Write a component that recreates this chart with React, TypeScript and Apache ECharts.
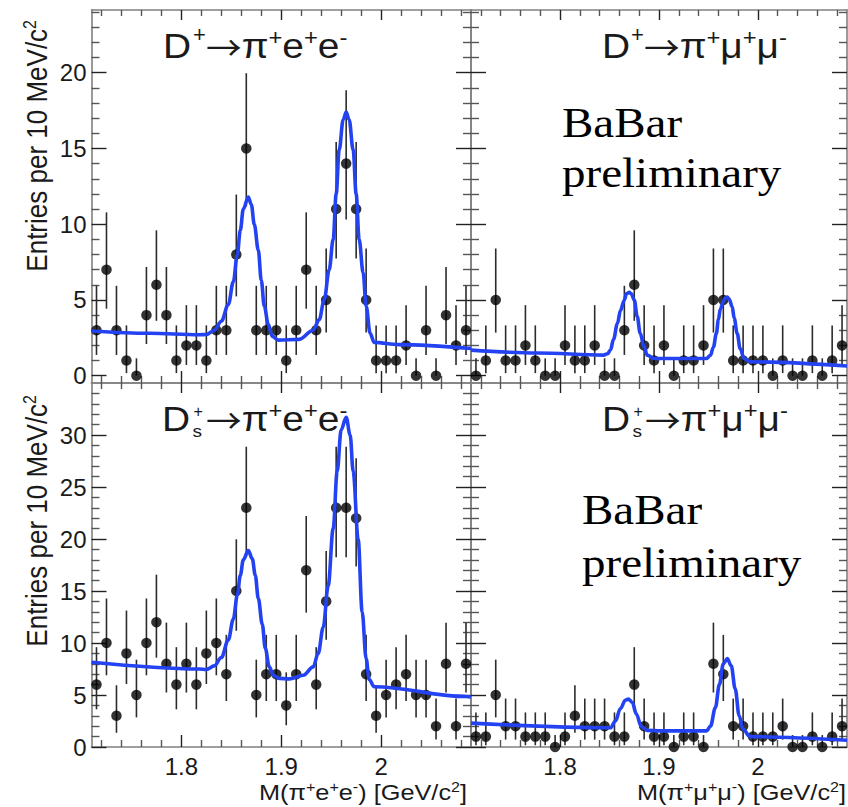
import { useEffect, useRef } from 'react';
import * as echarts from 'echarts';

// ---------- data ----------
// centres of the 38 bins of 10 MeV/c^2
const BIN_CENTRES = [
  1.715, 1.725, 1.735, 1.745, 1.755, 1.765, 1.775, 1.785, 1.795, 1.805,
  1.815, 1.825, 1.835, 1.845, 1.855, 1.865, 1.875, 1.885, 1.895, 1.905,
  1.915, 1.925, 1.935, 1.945, 1.955, 1.965, 1.975, 1.985, 1.995, 2.005,
  2.015, 2.025, 2.035, 2.045, 2.055, 2.065, 2.075, 2.085,
];

const DPLUS_EE = [3, 7, 3, 1, 0, 4, 6, 4, 1, 2, 2, 1, 3, 3, 8, 15, 3, 3, 3, 1, 3, 7, 3, 5, 11, 14, 11, 5, 1, 1, 1, 2, 0, 3, 0, 4, 2, 3];
const DPLUS_MUMU = [0, 1, 5, 1, 1, 2, 1, 0, 0, 2, 1, 1, 2, 0, 0, 3, 6, 2, 1, 2, 0, 1, 1, 2, 5, 5, 1, 1, 1, 1, 0, 1, 0, 0, 1, 0, 1, 2];
const DS_EE = [6, 10, 3, 9, 5, 10, 12, 8, 6, 8, 6, 9, 10, 7, 15, 23, 5, 7, 7, 4, 7, 17, 6, 14, 23, 23, 22, 7, 3, 5, 6, 7, 5, 5, 2, 8, 2, 8];
const DS_MUMU = [1, 1, 5, 2, 2, 1, 1, 1, 0, 1, 3, 2, 2, 2, 1, 1, 6, 2, 1, 1, 0, 1, 1, 0, 8, 7, 2, 2, 1, 1, 1, 2, 0, 0, 1, 0, 1, 2];

// fitted curves
const FIT_DPLUS_EE_X = [1.71, 1.768, 1.818, 1.825, 1.833, 1.84, 1.847, 1.852, 1.856, 1.859, 1.862, 1.867, 1.87, 1.873, 1.877, 1.88, 1.883, 1.887, 1.891, 1.897, 1.918, 1.932, 1.938, 1.943, 1.948, 1.952, 1.955, 1.958, 1.962, 1.965, 1.968, 1.972, 1.975, 1.978, 1.982, 1.985, 1.989, 1.993, 2.018, 2.09];
const FIT_DPLUS_EE_Y = [2.95, 2.8, 2.7, 2.72, 3.0, 3.6, 4.7, 6.2, 8.0, 9.6, 11.0, 11.8, 11.3, 10.0, 8.3, 6.3, 4.6, 3.4, 2.6, 2.35, 2.4, 3.0, 3.7, 5.0, 7.0, 9.0, 12.0, 14.9, 16.9, 17.4, 16.9, 14.9, 12.0, 9.0, 6.8, 4.6, 2.8, 2.2, 2.05, 1.8];

const FIT_DPLUS_MUMU_X = [1.71, 1.777, 1.844, 1.848, 1.851, 1.854, 1.858, 1.861, 1.865, 1.867, 1.87, 1.872, 1.875, 1.878, 1.881, 1.885, 1.888, 1.895, 1.948, 1.952, 1.955, 1.958, 1.96, 1.962, 1.965, 1.967, 1.969, 1.971, 1.974, 1.976, 1.979, 1.982, 1.986, 1.992, 2.09];
const FIT_DPLUS_MUMU_Y = [1.69, 1.5, 1.36, 1.45, 1.7, 2.4, 3.45, 4.3, 5.0, 5.4, 5.5, 5.4, 5.0, 3.9, 2.8, 1.9, 1.36, 1.14, 1.14, 1.35, 1.9, 2.8, 3.7, 4.4, 4.9, 5.15, 5.2, 5.05, 4.55, 3.8, 2.8, 1.8, 1.14, 0.92, 0.64];

const FIT_DS_EE_X = [1.71, 1.818, 1.825, 1.833, 1.84, 1.847, 1.852, 1.856, 1.859, 1.862, 1.867, 1.871, 1.874, 1.877, 1.881, 1.884, 1.888, 1.892, 1.898, 1.908, 1.922, 1.932, 1.937, 1.942, 1.947, 1.952, 1.956, 1.96, 1.965, 1.969, 1.972, 1.977, 1.981, 1.985, 1.988, 1.993, 2.085, 2.09];
const FIT_DS_EE_Y = [8.15, 7.5, 7.45, 7.8, 8.6, 10.3, 12.3, 14.6, 16.5, 18.0, 18.9, 18.1, 16.5, 14.3, 11.8, 9.5, 7.7, 6.9, 6.6, 6.55, 6.9, 7.7, 9.0, 11.5, 15.5, 21.0, 26.5, 30.5, 31.7, 30.0, 26.5, 20.0, 13.0, 8.5, 6.5, 5.8, 4.85, 4.8];

const FIT_DS_MUMU_X = [1.71, 1.851, 1.856, 1.861, 1.866, 1.869, 1.873, 1.877, 1.882, 1.888, 1.902, 1.948, 1.952, 1.957, 1.961, 1.965, 1.969, 1.973, 1.977, 1.981, 1.985, 1.992, 2.09];
const FIT_DS_MUMU_Y = [2.3, 1.85, 2.5, 3.7, 4.5, 4.6, 4.3, 3.2, 2.0, 1.6, 1.55, 1.55, 2.0, 3.8, 6.0, 8.0, 8.5, 7.8, 5.6, 3.0, 1.7, 1.0, 0.65];

// axis ticks
const X_MAJOR = [1.8, 1.9, 2.0];
const X_MINOR = [1.72, 1.74, 1.76, 1.78, 1.82, 1.84, 1.86, 1.88, 1.92, 1.94, 1.96, 1.98, 2.02, 2.04, 2.06, 2.08];
const Y_MAJOR_TOP = [0, 5, 10, 15, 20];
const Y_MINOR_TOP = [1, 2, 3, 4, 6, 7, 8, 9, 11, 12, 13, 14, 16, 17, 18, 19, 21, 22, 23, 24];
const Y_MAJOR_BOTTOM = [0, 5, 10, 15, 20, 25, 30];
const Y_MINOR_BOTTOM = [1, 2, 3, 4, 6, 7, 8, 9, 11, 12, 13, 14, 16, 17, 18, 19, 21, 22, 23, 24, 26, 27, 28, 29, 31, 32, 33, 34];

const X_RANGE = [1.71, 2.09];
const Y_RANGE_TOP = [-0.48, 24.14];
const Y_RANGE_BOTTOM = [0, 35];

// Poisson (RooFit style) interval of an observed count
function poissonInterval(n: number): [number, number] {
  if (n === 0) return [0, 1.148];
  const lo = n * Math.pow(1 - 1 / (9 * n) - 1 / (3 * Math.sqrt(n)), 3);
  const hi = n + Math.sqrt(n + 0.75) + 1;
  return [lo, hi];
}

const SANS = "'Liberation Sans', Arial, sans-serif";
const ARROW_FONT = "'Noto Sans CJK SC', 'Liberation Sans', sans-serif";
const SERIF = "'Liberation Serif', 'Times New Roman', serif";
const TXT = '#1a1a1a';
const FRAME = '#808080';
const BLUE = '#2343f2';

const PANELS = [
  { counts: DPLUS_EE, fx: FIT_DPLUS_EE_X, fy: FIT_DPLUS_EE_Y, yr: Y_RANGE_TOP, yMaj: Y_MAJOR_TOP, yMin: Y_MINOR_TOP, xLab: false, yLab: true },
  { counts: DPLUS_MUMU, fx: FIT_DPLUS_MUMU_X, fy: FIT_DPLUS_MUMU_Y, yr: Y_RANGE_TOP, yMaj: Y_MAJOR_TOP, yMin: Y_MINOR_TOP, xLab: false, yLab: false },
  { counts: DS_EE, fx: FIT_DS_EE_X, fy: FIT_DS_EE_Y, yr: Y_RANGE_BOTTOM, yMaj: Y_MAJOR_BOTTOM, yMin: Y_MINOR_BOTTOM, xLab: true, yLab: true },
  { counts: DS_MUMU, fx: FIT_DS_MUMU_X, fy: FIT_DS_MUMU_Y, yr: Y_RANGE_BOTTOM, yMaj: Y_MAJOR_BOTTOM, yMin: Y_MINOR_BOTTOM, xLab: true, yLab: false },
];

const GRIDS = [
  { left: 91.5, top: 10, width: 379.5, height: 373 },
  { left: 471, top: 10, width: 376, height: 373 },
  { left: 91.5, top: 383, width: 379.5, height: 364 },
  { left: 471, top: 383, width: 376, height: 364 },
];

function buildOption() {
  const xAxis: any[] = [];
  const yAxis: any[] = [];
  const series: any[] = [];

  PANELS.forEach((p, g) => {
    const tick = (vals: number[], len: number, color: string) => ({
      show: true, inside: true, length: len, customValues: vals,
      lineStyle: { color, width: 1.4 },
    });
    const line = (show: boolean) => ({ show, onZero: false, lineStyle: { color: FRAME, width: 1.6 } });
    const baseX = { gridIndex: g, type: 'value', min: X_RANGE[0], max: X_RANGE[1], splitLine: { show: false } };
    xAxis.push({
      ...baseX, position: 'bottom', axisLine: line(true), axisTick: tick(X_MAJOR, 12, '#222'),
      axisLabel: { show: p.xLab, customValues: X_MAJOR, fontSize: 24, color: TXT, fontFamily: SANS, margin: 7 },
    });
    xAxis.push({ ...baseX, position: 'bottom', axisLine: line(false), axisTick: tick(X_MINOR, 7, '#555'), axisLabel: { show: false } });
    xAxis.push({ ...baseX, position: 'top', axisLine: line(true), axisTick: tick(X_MAJOR, 10, '#222'), axisLabel: { show: false } });
    xAxis.push({ ...baseX, position: 'top', axisLine: line(false), axisTick: tick(X_MINOR, 6, '#555'), axisLabel: { show: false } });

    const baseY = { gridIndex: g, type: 'value', min: p.yr[0], max: p.yr[1], splitLine: { show: false } };
    yAxis.push({
      ...baseY, position: 'left', axisLine: line(true), axisTick: tick(p.yMaj, 15, '#222'),
      axisLabel: { show: p.yLab, customValues: p.yMaj, fontSize: 24, color: TXT, fontFamily: SANS, margin: 5 },
    });
    yAxis.push({ ...baseY, position: 'left', axisLine: line(false), axisTick: tick(p.yMin, 8, '#555'), axisLabel: { show: false } });
    yAxis.push({ ...baseY, position: 'right', axisLine: line(true), axisTick: tick(p.yMaj, 15, '#222'), axisLabel: { show: false } });
    yAxis.push({ ...baseY, position: 'right', axisLine: line(false), axisTick: tick(p.yMin, 8, '#555'), axisLabel: { show: false } });

    const ax = 4 * g;
    series.push({
      type: 'custom', xAxisIndex: ax, yAxisIndex: ax, z: 2,
      data: p.counts.map((n, i) => { const [lo, hi] = poissonInterval(n); return [BIN_CENTRES[i], lo, hi]; }),
      encode: { x: 0, y: [1, 2] },
      renderItem: (_params: any, api: any) => {
        const a = api.coord([api.value(0), api.value(1)]);
        const b = api.coord([api.value(0), api.value(2)]);
        return { type: 'line', shape: { x1: a[0], y1: a[1], x2: b[0], y2: b[1] }, style: { stroke: '#2b2b2b', lineWidth: 1.6 } };
      },
    });
    series.push({
      type: 'scatter', xAxisIndex: ax, yAxisIndex: ax, z: 3,
      symbol: 'circle', symbolSize: 10.5, itemStyle: { color: '#000' },
      data: p.counts.map((n, i) => [BIN_CENTRES[i], n]),
    });
    series.push({
      type: 'line', xAxisIndex: ax, yAxisIndex: ax, z: 4,
      showSymbol: false, smooth: 0.35, smoothMonotone: 'x',
      lineStyle: { color: BLUE, width: 3.6 },
      data: p.fx.map((x, i) => [x, p.fy[i]]),
    });
  });

  const T = (x: number, y: number, text: string, fontSize: number, extra: any = {}, styleExtra: any = {}) => ({
    type: 'text', x, y, z: 20, ...extra,
    style: { text, fill: TXT, fontSize, fontFamily: SANS, align: 'left', verticalAlign: 'middle', ...styleExtra },
  });
  const titleRich = {
    m: { fontSize: 36, fontFamily: SANS, fill: TXT, lineHeight: 40 },
    a: { fontSize: 33, fontFamily: ARROW_FONT, fill: TXT, lineHeight: 40 },
    p: { fontSize: 22, fontFamily: SANS, fill: TXT, lineHeight: 16, verticalAlign: 'top' },
  };
  const axRich = {
    m: { fontSize: 22, fontFamily: SANS, fill: TXT, lineHeight: 26 },
    p: { fontSize: 14, fontFamily: SANS, fill: TXT, lineHeight: 12, verticalAlign: 'top' },
  };
  const yRich = {
    m: { fontSize: 26, fontFamily: SANS, fill: TXT, lineHeight: 28 },
    p: { fontSize: 16, fontFamily: SANS, fill: TXT, lineHeight: 12, verticalAlign: 'top' },
  };

  const graphic: any[] = [
    // top-left title
    T(163, 46, 'D', 36, { scaleX: 1.08 }),
    T(193, 34, '+', 22),
    T(206, 46, '{a|→}{m|π}{p|+}{m|e}{p|+}{m|e}{p|-}', 36, { scaleX: 1.08 }, { rich: titleRich }),
    // top-right title
    T(602, 46, 'D', 36, { scaleX: 1.08 }),
    T(631, 34, '+', 22),
    T(644, 46, '{a|→}{m|π}{p|+}{m|μ}{p|+}{m|μ}{p|-}', 36, { scaleX: 1.08 }, { rich: titleRich }),
    // bottom-left title: D, stacked + over s
    T(162, 419, 'D', 36, { scaleX: 1.08 }),
    T(193.5, 411.5, '+', 16),
    T(192.5, 431, 's', 17, { scaleX: 1.12 }),
    T(206, 419, '{a|→}{m|π}{p|+}{m|e}{p|+}{m|e}{p|-}', 36, { scaleX: 1.08 }, { rich: titleRich }),
    // bottom-right title
    T(602, 419, 'D', 36, { scaleX: 1.08 }),
    T(633.5, 411.5, '+', 16),
    T(632.5, 431, 's', 17, { scaleX: 1.12 }),
    T(645, 419, '{a|→}{m|π}{p|+}{m|μ}{p|+}{m|μ}{p|-}', 36, { scaleX: 1.08 }, { rich: titleRich }),
    // BaBar preliminary
    T(562, 123, 'BaBar', 42, { scaleX: 1.12 }, { fontFamily: SERIF, fill: '#000' }),
    T(562, 173, 'preliminary', 42, { scaleX: 1.12 }, { fontFamily: SERIF, fill: '#000' }),
    T(582, 510, 'BaBar', 42, { scaleX: 1.12 }, { fontFamily: SERIF, fill: '#000' }),
    T(582, 563, 'preliminary', 42, { scaleX: 1.12 }, { fontFamily: SERIF, fill: '#000' }),
    // y-axis titles
    T(37, 20, '{m|Entries per 10 MeV/c}{p|2}', 26, { rotation: Math.PI / 2, scaleY: 1.1 }, { align: 'right', rich: yRich }),
    T(37, 395, '{m|Entries per 10 MeV/c}{p|2}', 26, { rotation: Math.PI / 2, scaleY: 1.1 }, { align: 'right', rich: yRich }),
    // x-axis titles
    T(467, 793, '{m|M(π}{p|+}{m|e}{p|+}{m|e}{p|-}{m|) [GeV/c}{p|2}{m|]}', 22, { scaleX: 1.15 }, { align: 'right', rich: axRich }),
    T(846, 793, '{m|M(π}{p|+}{m|μ}{p|+}{m|μ}{p|-}{m|) [GeV/c}{p|2}{m|]}', 22, { scaleX: 1.15 }, { align: 'right', rich: axRich }),
  ];

  return {
    animation: false,
    backgroundColor: '#fff',
    grid: GRIDS.map((g) => ({ ...g, containLabel: false })),
    xAxis, yAxis, series, graphic,
  };
}

export default function App() {
  const ref = useRef<HTMLDivElement>(null);
  useEffect(() => {
    if (!ref.current) return;
    const chart = echarts.init(ref.current, undefined, { renderer: 'svg' });
    chart.setOption(buildOption() as any);
    return () => chart.dispose();
  }, []);
  return <div ref={ref} style={{ position: 'fixed', left: 0, top: 0, width: 848, height: 807, background: '#fff' }} />;
}
